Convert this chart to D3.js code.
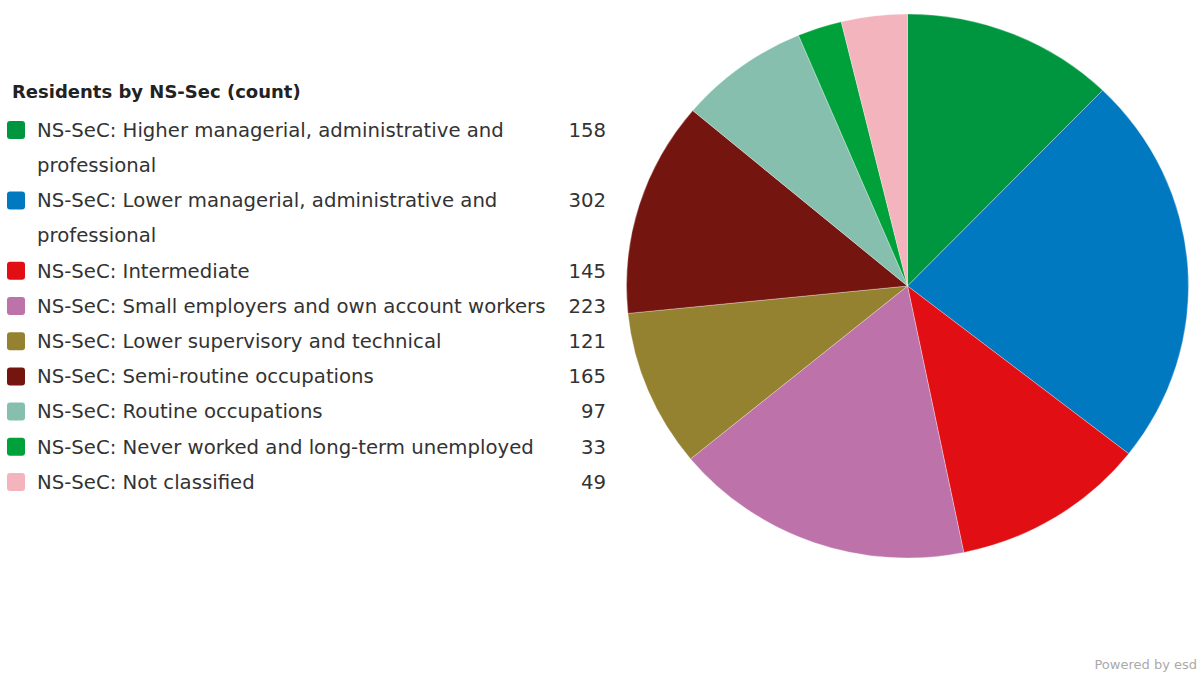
<!DOCTYPE html>
<html>
<head>
<meta charset="utf-8">
<script src="https://cdn.jsdelivr.net/npm/d3@7"></script>
<style>
  body { margin: 0; background: #fff; }
  svg { display: block; font-family: "DejaVu Sans", Verdana, sans-serif; }
</style>
</head>
<body>
<div id="chart"></div>
<script>
const categories = [
    "NS-SeC: Higher managerial, administrative and professional",
    "NS-SeC: Lower managerial, administrative and professional",
    "NS-SeC: Intermediate",
    "NS-SeC: Small employers and own account workers",
    "NS-SeC: Lower supervisory and technical",
    "NS-SeC: Semi-routine occupations",
    "NS-SeC: Routine occupations",
    "NS-SeC: Never worked and long-term unemployed",
    "NS-SeC: Not classified"
];
const counts = [158, 302, 145, 223, 121, 165, 97, 33, 49];
const colours = ["#00963f", "#0079c1", "#e10e14", "#bd73a9", "#948231", "#74150f", "#86bfae", "#00a03a", "#f4b4bd"];
const legendTitle = "Residents by NS-Sec (count)";

const width = 1203, height = 675;
const data = categories.map((c, i) => ({ label: c, count: counts[i], colour: colours[i] }));

const svg = d3.select("#chart").append("svg")
    .attr("width", width)
    .attr("height", height);

// pie, slightly stretched horizontally like the original
const ry = 272, rx = 281;
const pieG = svg.append("g")
    .attr("transform", `translate(907.5, 286) scale(${rx / ry}, 1)`);

const pie = d3.pie().value(d => d.count).sort(null);
const arc = d3.arc().innerRadius(0).outerRadius(ry);

pieG.selectAll("path")
    .data(pie(data))
    .enter().append("path")
    .attr("d", arc)
    .attr("fill", d => d.data.colour)
    .attr("stroke", "#ffffff")
    .style("stroke-width", "0.3px");

// legend
const legend = svg.append("g");
const fontSize = 19.7;
const lineH = 35.2;
const textX = 37, valueX = 606, wrapW = 530;

legend.append("text")
    .attr("x", 12)
    .attr("y", 92)
    .attr("dy", "0.35em")
    .style("font-size", "18px")
    .style("font-weight", "bold")
    .style("fill", "#222")
    .text(legendTitle);

// wrap a label into lines that fit wrapW
const measure = svg.append("text").style("font-size", fontSize + "px");
function wrap(str) {
    const words = str.split(" ");
    const lines = [];
    let cur = "";
    words.forEach(w => {
        const test = cur ? cur + " " + w : w;
        measure.text(test);
        if (measure.node().getComputedTextLength() > wrapW && cur) {
            lines.push(cur);
            cur = w;
        } else {
            cur = test;
        }
    });
    lines.push(cur);
    return lines;
}

let y = 130;
data.forEach(d => {
    const lines = wrap(d.label);
    const row = legend.append("g");
    row.append("rect")
        .attr("x", 7)
        .attr("y", y - 9)
        .attr("width", 18)
        .attr("height", 18)
        .attr("rx", 3)
        .attr("fill", d.colour);
    lines.forEach((ln, i) => {
        row.append("text")
            .attr("x", textX)
            .attr("y", y + i * lineH)
            .attr("dy", "0.35em")
            .style("font-size", fontSize + "px")
            .style("fill", "#333")
            .text(ln);
    });
    row.append("text")
        .attr("x", valueX)
        .attr("y", y)
        .attr("dy", "0.35em")
        .attr("text-anchor", "end")
        .style("font-size", fontSize + "px")
        .style("fill", "#333")
        .text(d3.format("d")(d.count));
    y += lines.length * lineH;
});
measure.remove();

svg.append("text")
    .attr("x", 1197)
    .attr("y", 669)
    .attr("text-anchor", "end")
    .style("font-size", "13px")
    .style("fill", "#aaa")
    .text("Powered by esd");
</script>
</body>
</html>
